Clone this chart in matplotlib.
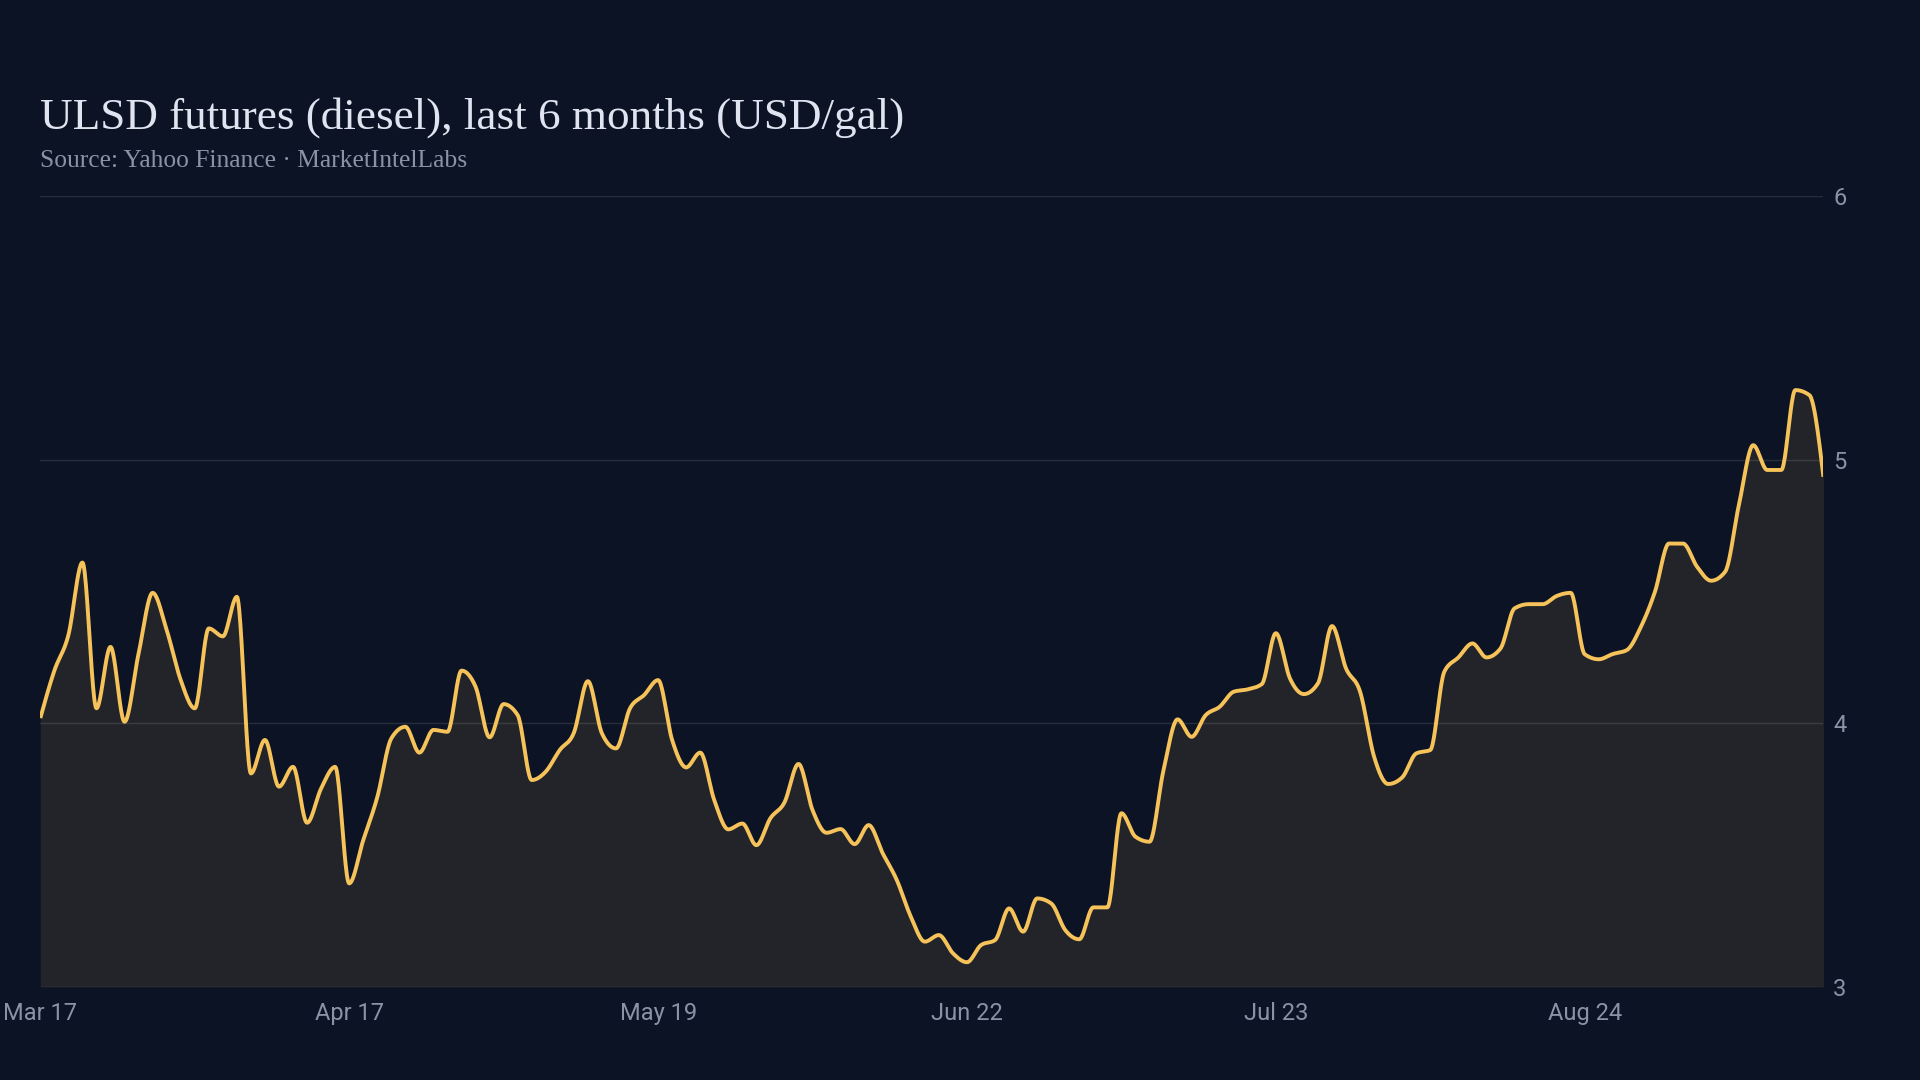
import numpy as np
import matplotlib
matplotlib.use("Agg")
import matplotlib.pyplot as plt

# ULSD settle prices, one per trading day (USD/gal)
prices = [
    4.02, 4.20, 4.335, 4.61, 4.057, 4.29, 4.006, 4.265, 4.495, 4.354,
    4.164, 4.057, 4.36, 4.33, 4.48, 3.81, 3.937, 3.76, 3.835, 3.623,
    3.753, 3.835, 3.393, 3.557, 3.72, 3.943, 3.987, 3.889, 3.975, 3.968,
    4.20, 4.139, 3.947, 4.073, 4.031, 3.785, 3.817, 3.899, 3.964, 4.16,
    3.962, 3.905, 4.057, 4.107, 4.164, 3.937, 3.833, 3.889, 3.709, 3.598,
    3.62, 3.538, 3.64, 3.70, 3.846, 3.671, 3.585, 3.599, 3.542, 3.614,
    3.507, 3.406, 3.267, 3.172, 3.197, 3.128, 3.094, 3.159, 3.178, 3.298,
    3.21, 3.336, 3.317, 3.216, 3.181, 3.302, 3.302, 3.659, 3.57, 3.551,
    3.823, 4.015, 3.949, 4.031, 4.063, 4.12, 4.129, 4.149, 4.342, 4.171,
    4.111, 4.152, 4.369, 4.208, 4.12, 3.873, 3.77, 3.795, 3.886, 3.899,
    4.196, 4.25, 4.303, 4.25, 4.284, 4.436, 4.452, 4.452, 4.483, 4.495,
    4.262, 4.243, 4.263, 4.278, 4.366, 4.499, 4.682, 4.682, 4.594, 4.541,
    4.575, 4.834, 5.055, 4.961, 4.961, 5.264, 5.245, 4.935,
]
tick_idx = [0, 22, 44, 66, 88, 110]
tick_labels = ["Mar 17", "Apr 17", "May 19", "Jun 22", "Jul 23", "Aug 24"]
y_ticks = [3, 4, 5, 6]

BG = "#0c1324"
LINE = "#f6c35b"
GRID = "#262d3d"
MUTED = "#8a92a6"


def monotone_curve(y, per_seg=24):
    # monotone cubic (Fritsch-Carlson style), like d3.curveMonotoneX
    y = np.asarray(y, float)
    n = len(y)
    s = np.diff(y)
    m = np.zeros(n)
    for i in range(1, n - 1):
        if s[i - 1] * s[i] > 0:
            p = (s[i - 1] + s[i]) / 2
            m[i] = np.sign(s[i]) * min(abs(s[i - 1]), abs(s[i]), 0.5 * abs(p)) * 2
    m[0] = (3 * s[0] - m[1]) / 2
    m[-1] = (3 * s[-1] - m[-2]) / 2
    xs, ys = [], []
    t = np.linspace(0, 1, per_seg, endpoint=False)
    for i in range(n - 1):
        h00 = 2 * t**3 - 3 * t**2 + 1
        h10 = t**3 - 2 * t**2 + t
        h01 = -2 * t**3 + 3 * t**2
        h11 = t**3 - t**2
        xs.append(i + t)
        ys.append(h00 * y[i] + h10 * m[i] + h01 * y[i + 1] + h11 * m[i + 1])
    xs.append([n - 1])
    ys.append([y[-1]])
    return np.concatenate(xs), np.concatenate(ys)


fig = plt.figure(figsize=(19.2, 10.8), dpi=100, facecolor=BG)
ax = fig.add_axes([0.021, 0.0861, 0.9287, 0.7324], facecolor=BG)

cx, cy = monotone_curve(prices)
ax.fill_between(cx, cy, 3, color=LINE, alpha=0.1, linewidth=0)
ax.plot(cx, cy, color=LINE, linewidth=2.8, solid_capstyle="butt", zorder=3)

ax.set_xlim(0, len(prices) - 1)
ax.set_ylim(3, 6)
ax.set_yticks(y_ticks)
ax.set_yticklabels([str(v) for v in y_ticks])
ax.set_xticks(tick_idx)
ax.set_xticklabels(tick_labels)
ax.yaxis.tick_right()
ax.grid(axis="y", color=GRID, linewidth=1)
ax.grid(axis="x", visible=False)
ax.set_axisbelow(True)
for sp in ax.spines.values():
    sp.set_visible(False)
ax.tick_params(axis="both", length=0, colors=MUTED, labelsize=17)
ax.tick_params(axis="x", pad=11)
ax.tick_params(axis="y", pad=7)
for lab in ax.get_xticklabels() + ax.get_yticklabels():
    lab.set_fontfamily("Roboto")

fig.text(0.021, 0.881, "ULSD futures (diesel), last 6 months (USD/gal)",
         family="Liberation Serif", fontsize=32.5, color="#dfe4f0", va="baseline")
fig.text(0.021, 0.845, "Source: Yahoo Finance \u00b7 MarketIntelLabs",
         family="Liberation Serif", fontsize=18.4, color=MUTED, va="baseline")

fig.savefig("out.png", dpi=100, facecolor=BG)
